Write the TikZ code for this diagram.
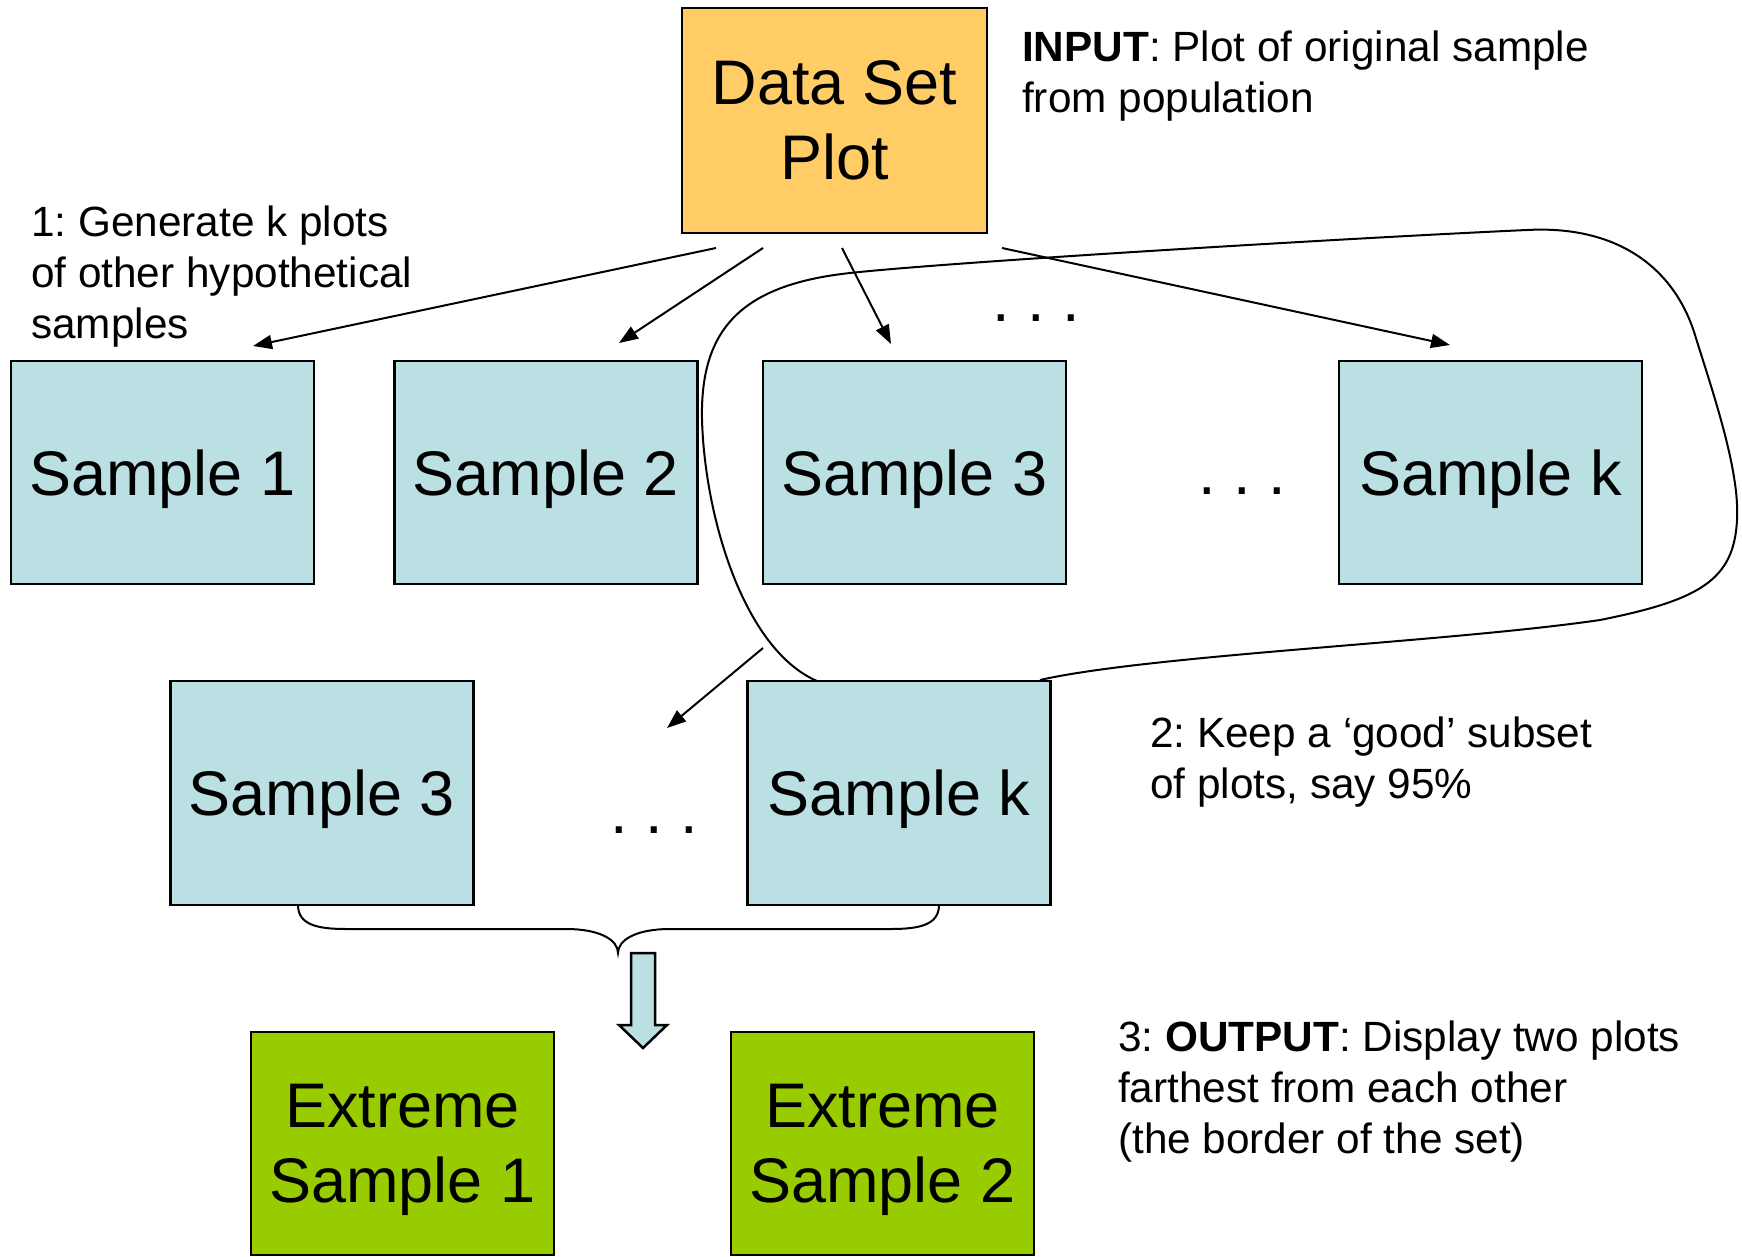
\documentclass[tikz,border=0pt]{standalone}
\usepackage{fontspec}
\setmainfont{Liberation Sans}
\usetikzlibrary{arrows.meta}
\definecolor{dsorange}{HTML}{FFCC66}
\definecolor{smpblue}{HTML}{BBE0E3}
\definecolor{extgreen}{HTML}{99CC00}
\newcommand\bigtxt{\fontsize{63}{75}\selectfont}
\newcommand\lbltxt{\fontsize{42.3}{51}\selectfont}
\frenchspacing
\begin{document}
\begin{tikzpicture}[x=1pt,y=-1pt,
  boxbase/.style={draw=black,line width=2.5pt,inner sep=0pt,font=\bigtxt,
    minimum width=303pt,minimum height=223pt},
  onebox/.style={boxbase,text height=45pt,text depth=0pt},
  twobox/.style={boxbase,align=center},
  smp/.style={onebox,fill=smpblue},
  ext/.style={twobox,fill=extgreen},
  conn/.style={line width=2pt,-{Triangle[length=19pt,width=14pt]}},
  lbl/.style={font=\lbltxt,align=left,anchor=north west,inner sep=0pt},
  dotsnode/.style={font=\bigtxt,anchor=base west,inner sep=0pt}]
\useasboundingbox (0,0) rectangle (1742,1257);

% loop around the kept subset
\draw[line width=2pt] (817,681) .. controls (745,650) and (705,520) .. (702,420)
  .. controls (700,330) and (740,285) .. (850,273)
  .. controls (950,262) and (1350,238) .. (1527,230)
  .. controls (1620,225) and (1675,270) .. (1695,335)
  .. controls (1712,390) and (1740,470) .. (1737,520)
  .. controls (1734,580) and (1700,600) .. (1600,620)
  .. controls (1450,642) and (1150,655) .. (1040,680);

% boxes
\node[twobox,fill=dsorange,minimum width=305pt,minimum height=225pt] (ds) at (834.5,120.5) {Data Set\\Plot};
\node[smp] (s1) at (162.5,472.5) {Sample 1};
\node[smp] (s2) at (546,472.5) {Sample 2};
\node[smp] (s3) at (914.5,472.5) {Sample 3};
\node[smp] (sk) at (1490.5,472.5) {Sample k};
\node[smp,minimum height=224pt] (s3b) at (322,793) {Sample 3};
\node[smp,minimum height=224pt] (skb) at (899,793) {Sample k};
\node[ext,text depth=0pt] (e1) at (402.5,1143.5) {Extreme\\Sample 1};
\node[ext,text depth=0pt] (e2) at (882.5,1143.5) {Extreme\\Sample 2};

% dots
\node[dotsnode] (dtop) at (992,321) {. . .};
\node[dotsnode] (drow1) at (1198,494) {. . .};
\node[dotsnode] (drow2) at (610,833) {. . .};

% arrows from data set
\coordinate (a1s) at (716,248); \coordinate (a1e) at (253,346);
\coordinate (a2s) at (763,248); \coordinate (a2e) at (619,343);
\coordinate (a3s) at (842,248); \coordinate (a3e) at (891,344);
\coordinate (a4s) at (1002,248); \coordinate (a4e) at (1450,345);
\coordinate (a5s) at (763,648); \coordinate (a5e) at (667,728);
\draw[conn] (a1s) -- (a1e);
\draw[conn] (a2s) -- (a2e);
\draw[conn] (a3s) -- (a3e);
\draw[conn] (a4s) -- (a4e);
\draw[conn] (a5s) -- (a5e);

% brace
\coordinate (brl) at (298,905);
\coordinate (brr) at (939,905);
\coordinate (brtip) at (618,953);
\draw[line width=2pt] (brl) .. controls (298,925) and (318,929) .. (346,929) -- (566,929)
  .. controls (600,929) and (618,940) .. (brtip)
  .. controls (618,940) and (636,929) .. (670,929) -- (891,929)
  .. controls (919,929) and (939,925) .. (brr);

% block arrow
\draw[line width=2.5pt,fill=smpblue,line join=miter] (631,953) -- (655,953) -- (655,1025) -- (667,1025)
  -- (643,1048) -- (619,1025) -- (631,1025) -- cycle;

% labels
\node[lbl] (tin) at (1022,31) {\textbf{INPUT}: Plot of original sample\\from population};
\node[lbl] (t1) at (31,206) {1: Generate k plots\\of other hypothetical\\samples};
\node[lbl] (t2) at (1150,717) {2: Keep a ‘good’ subset\\of plots, say 95\%};
\node[lbl] (t3) at (1118,1021) {3: \textbf{OUTPUT}: Display two plots\\farthest from each other\\(the border of the set)};
\end{tikzpicture}
\end{document}
